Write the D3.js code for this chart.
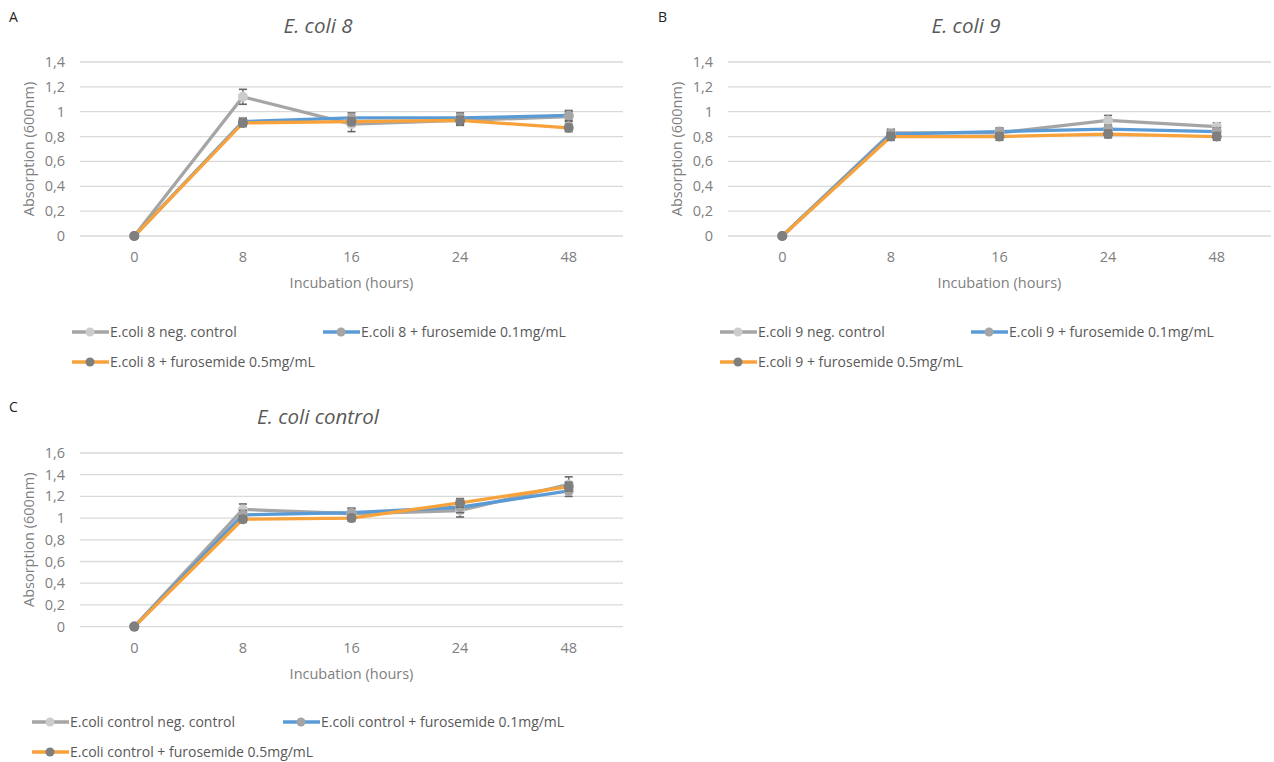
<!DOCTYPE html>
<html>
<head>
<meta charset="utf-8">
<script src="https://cdn.jsdelivr.net/npm/d3@7"></script>
<style>
  body { margin: 0; background: #fff; }
  svg text { font-family: "Open Sans", sans-serif; }
</style>
</head>
<body>
<div id="chart"></div>
<script>
// categories (incubation hours)
const hours = ["0", "8", "16", "24", "48"];

// panel A - E. coli 8
const coli8Neg = [0, 1.12, 0.90, 0.93, 0.96];
const coli8Low = [0, 0.92, 0.95, 0.95, 0.97];
const coli8High = [0, 0.91, 0.92, 0.93, 0.87];
const coli8NegErr = [0, 0.06, 0.06, 0.04, 0.04];
const coli8LowErr = [0, 0.03, 0.04, 0.04, 0.04];
const coli8HighErr = [0, 0.03, 0.03, 0.03, 0.03];

// panel B - E. coli 9
const coli9Neg = [0, 0.83, 0.83, 0.93, 0.88];
const coli9Low = [0, 0.82, 0.84, 0.86, 0.84];
const coli9High = [0, 0.80, 0.80, 0.82, 0.80];
const coli9NegErr = [0, 0.03, 0.03, 0.04, 0.03];
const coli9LowErr = [0, 0.03, 0.03, 0.03, 0.03];
const coli9HighErr = [0, 0.03, 0.03, 0.03, 0.03];

// panel C - E. coli control
const ctrlNeg = [0, 1.08, 1.04, 1.07, 1.31];
const ctrlLow = [0, 1.03, 1.05, 1.10, 1.25];
const ctrlHigh = [0, 0.99, 1.00, 1.14, 1.29];
const ctrlNegErr = [0, 0.05, 0.05, 0.06, 0.07];
const ctrlLowErr = [0, 0.04, 0.04, 0.05, 0.05];
const ctrlHighErr = [0, 0.03, 0.03, 0.04, 0.04];

// y ticks
const ticksAB = [0, 0.2, 0.4, 0.6, 0.8, 1, 1.2, 1.4];
const ticksC = [0, 0.2, 0.4, 0.6, 0.8, 1, 1.2, 1.4, 1.6];

const lineColors = ["#a5a5a5", "#5b9bd5", "#f7a23b"];
const markerColors = ["#cccccc", "#a5a5a5", "#7f7f7f"];

const svg = d3.select("#chart").append("svg")
  .attr("width", 1274)
  .attr("height", 762);

const fmt = d => String(+d.toFixed(1)).replace(".", ",");

function drawPanel(p) {
  const x = d3.scalePoint().domain(hours).range([p.left, p.right]).padding(0.5);
  const y = d3.scaleLinear().domain([0, p.yMax]).range([p.bottom, p.top]);
  const g = svg.append("g");

  // panel letter
  g.append("text")
    .attr("x", p.letterX).attr("y", p.letterY)
    .attr("font-size", 14).attr("fill", "#222")
    .text(p.letter);

  // title
  g.append("text")
    .attr("x", p.left + 238).attr("y", p.top - 29)
    .attr("text-anchor", "middle")
    .attr("font-size", 20.5).attr("font-style", "italic")
    .attr("fill", "#595959")
    .text(p.title);

  // gridlines
  g.selectAll(".grid").data(p.ticks).enter().append("line")
    .attr("x1", p.left).attr("x2", p.right)
    .attr("y1", d => y(d)).attr("y2", d => y(d))
    .attr("stroke", "#d9d9d9").attr("stroke-width", 1.3);

  // y tick labels
  g.selectAll(".ytick").data(p.ticks).enter().append("text")
    .attr("x", p.left - 15).attr("y", d => y(d) + 5)
    .attr("text-anchor", "end")
    .attr("font-size", 14.5).attr("fill", "#808080")
    .text(fmt);

  // x tick labels
  g.selectAll(".xtick").data(hours).enter().append("text")
    .attr("x", d => x(d)).attr("y", p.bottom + 26)
    .attr("text-anchor", "middle")
    .attr("font-size", 14.5).attr("fill", "#808080")
    .text(d => d);

  // axis titles
  g.append("text")
    .attr("x", (p.left + p.right) / 2).attr("y", p.bottom + 52)
    .attr("text-anchor", "middle")
    .attr("font-size", 14.5).attr("fill", "#808080")
    .text("Incubation (hours)");

  g.append("text")
    .attr("transform", `translate(${p.left - 46},${(p.top + p.bottom) / 2}) rotate(-90)`)
    .attr("text-anchor", "middle")
    .attr("font-size", 14.5).attr("fill", "#808080")
    .text("Absorption (600nm)");

  const line = d3.line().x((d, i) => x(hours[i])).y(d => y(d));

  // lines
  p.series.forEach((s, k) => {
    g.append("path")
      .datum(s.values)
      .attr("d", line)
      .attr("fill", "none")
      .attr("stroke", lineColors[k])
      .attr("stroke-width", 3.3)
      .attr("stroke-linejoin", "round");
  });

  // markers and error bars
  p.series.forEach((s, k) => {
    const pts = s.values.map((v, i) => ({ h: hours[i], v: v, e: s.err[i] }));
    const withErr = pts.filter(d => d.e > 0);
    const eb = g.append("g").attr("stroke", "#666");
    eb.selectAll("line.bar").data(withErr).enter().append("line")
      .attr("x1", d => x(d.h)).attr("x2", d => x(d.h))
      .attr("y1", d => y(d.v - d.e)).attr("y2", d => y(d.v + d.e))
      .attr("stroke-width", 1.3);
    eb.selectAll("line.capt").data(withErr).enter().append("line")
      .attr("x1", d => x(d.h) - 4).attr("x2", d => x(d.h) + 4)
      .attr("y1", d => y(d.v + d.e)).attr("y2", d => y(d.v + d.e))
      .attr("stroke-width", 1.6);
    eb.selectAll("line.capb").data(withErr).enter().append("line")
      .attr("x1", d => x(d.h) - 4).attr("x2", d => x(d.h) + 4)
      .attr("y1", d => y(d.v - d.e)).attr("y2", d => y(d.v - d.e))
      .attr("stroke-width", 1.6);
    g.selectAll(null).data(pts).enter().append("circle")
      .attr("cx", d => x(d.h)).attr("cy", d => y(d.v))
      .attr("r", 5)
      .attr("fill", markerColors[k]);
  });

  // legend
  const legPos = [
    [p.legX, p.legY],
    [p.legX + 251, p.legY],
    [p.legX, p.legY + 30]
  ];
  p.series.forEach((s, k) => {
    const lg = g.append("g").attr("transform", `translate(${legPos[k][0]},${legPos[k][1]})`);
    lg.append("line")
      .attr("x1", 0).attr("x2", 37).attr("y1", 0).attr("y2", 0)
      .attr("stroke", lineColors[k]).attr("stroke-width", 3.3);
    lg.append("circle").attr("cx", 18).attr("cy", 0).attr("r", 4.5)
      .attr("fill", markerColors[k]);
    lg.append("text")
      .attr("x", 38).attr("y", 4.8)
      .attr("font-size", 14).attr("fill", "#595959")
      .text(s.name);
  });
}

drawPanel({
  letter: "A", letterX: 9, letterY: 22,
  title: "E. coli 8",
  left: 80, right: 623, top: 62, bottom: 236, yMax: 1.4, ticks: ticksAB,
  legX: 72, legY: 332,
  series: [
    { name: "E.coli 8 neg. control", values: coli8Neg, err: coli8NegErr },
    { name: "E.coli 8 + furosemide 0.1mg/mL", values: coli8Low, err: coli8LowErr },
    { name: "E.coli 8 + furosemide 0.5mg/mL", values: coli8High, err: coli8HighErr }
  ]
});

drawPanel({
  letter: "B", letterX: 658, letterY: 22,
  title: "E. coli 9",
  left: 728, right: 1271, top: 62, bottom: 236, yMax: 1.4, ticks: ticksAB,
  legX: 720, legY: 332,
  series: [
    { name: "E.coli 9 neg. control", values: coli9Neg, err: coli9NegErr },
    { name: "E.coli 9 + furosemide 0.1mg/mL", values: coli9Low, err: coli9LowErr },
    { name: "E.coli 9 + furosemide 0.5mg/mL", values: coli9High, err: coli9HighErr }
  ]
});

drawPanel({
  letter: "C", letterX: 9, letterY: 412,
  title: "E. coli control",
  left: 80, right: 623, top: 453, bottom: 626.6, yMax: 1.6, ticks: ticksC,
  legX: 32, legY: 722,
  series: [
    { name: "E.coli control neg. control", values: ctrlNeg, err: ctrlNegErr },
    { name: "E.coli control + furosemide 0.1mg/mL", values: ctrlLow, err: ctrlLowErr },
    { name: "E.coli control + furosemide 0.5mg/mL", values: ctrlHigh, err: ctrlHighErr }
  ]
});
</script>
</body>
</html>
